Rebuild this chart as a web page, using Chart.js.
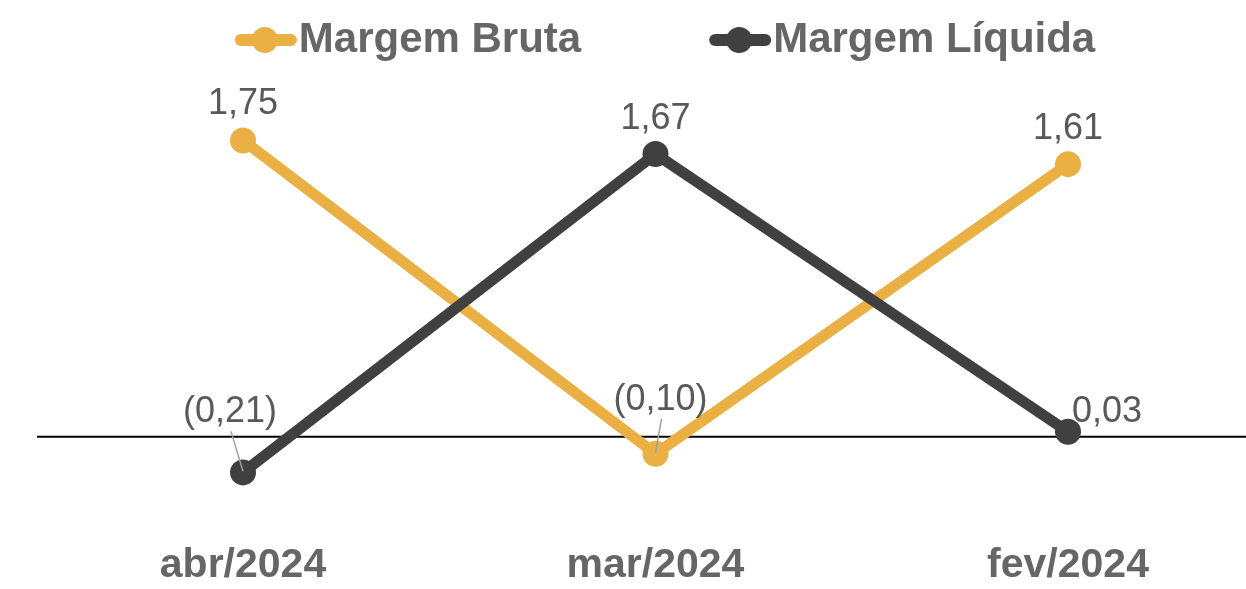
<!DOCTYPE html>
<html><head><meta charset="utf-8">
<script src="https://cdn.jsdelivr.net/npm/chart.js@4"></script>
<style>html,body{margin:0;padding:0;background:#fff;overflow:hidden}</style>
</head><body>
<canvas id="c" width="1246" height="589"></canvas>
<script>
const categories = ['abr/2024', 'mar/2024', 'fev/2024'];
const seriesNames = ['Margem Bruta', 'Margem Líquida'];
const margemBruta = [1.75, -0.10, 1.61];
const margemLiquida = [-0.21, 1.67, 0.03];

const colors = ['#EBB044', '#404040'];
const FONT = "'Liberation Sans', Arial, sans-serif";

// label placement styles relative to each point
const labelOffsets = [
  [{dx: 0, dy: -39}, {dx: 5, dy: -57, leader: true}, {dx: 0, dy: -38}],
  [{dx: -13, dy: -63, leader: true}, {dx: 0, dy: -38}, {dx: 39, dy: -23}]
];

function fmt(v) {
  const s = Math.abs(v).toFixed(2).replace('.', ',');
  return v < 0 ? '(' + s + ')' : s;
}

function legendMarker(color) {
  const c = document.createElement('canvas');
  c.width = 190; c.height = 30;
  const g = c.getContext('2d');
  g.strokeStyle = color; g.lineWidth = 12; g.lineCap = 'round';
  g.beginPath(); g.moveTo(134, 15); g.lineTo(184, 15); g.stroke();
  g.fillStyle = color;
  g.beginPath(); g.arc(158, 15, 13, 0, Math.PI * 2); g.fill();
  return c;
}
const markers = colors.map(legendMarker);

const zeroLine = {
  id: 'zeroLine',
  beforeDatasetsDraw(chart) {
    const ctx = chart.ctx;
    const y = chart.scales.y.getPixelForValue(0);
    ctx.save();
    ctx.strokeStyle = '#000';
    ctx.lineWidth = 2;
    ctx.beginPath();
    ctx.moveTo(chart.chartArea.left + 37, y);
    ctx.lineTo(chart.width, y);
    ctx.stroke();
    ctx.restore();
  }
};

const dataLabels = {
  id: 'dataLabels',
  afterDatasetsDraw(chart) {
    const ctx = chart.ctx;
    ctx.save();
    chart.data.datasets.forEach((ds, di) => {
      const meta = chart.getDatasetMeta(di);
      meta.data.forEach((pt, i) => {
        const off = labelOffsets[di][i];
        const lx = pt.x + off.dx, ly = pt.y + off.dy;
        if (off.leader) {
          ctx.strokeStyle = '#a0a0a0';
          ctx.lineWidth = 1.5;
          ctx.beginPath();
          ctx.moveTo(lx + 1, ly + 22);
          ctx.lineTo(pt.x, pt.y - 1);
          ctx.stroke();
        }
        ctx.fillStyle = '#595959';
        ctx.font = '36px ' + FONT;
        ctx.textAlign = 'center';
        ctx.textBaseline = 'alphabetic';
        ctx.fillText(fmt(ds.data[i].y), lx, ly + 13);
      });
    });
    ctx.restore();
  }
};

Chart.defaults.font.family = FONT;

new Chart(document.getElementById('c'), {
  type: 'line',
  data: {
    datasets: [
      {
        label: seriesNames[0],
        data: margemBruta.map((v, i) => ({x: i, y: v})),
        borderColor: colors[0], backgroundColor: colors[0],
        borderWidth: 11, pointRadius: 13, pointBorderWidth: 0,
        pointBackgroundColor: colors[0], tension: 0, order: 1
      },
      {
        label: seriesNames[1],
        data: margemLiquida.map((v, i) => ({x: i, y: v})),
        borderColor: colors[1], backgroundColor: colors[1],
        borderWidth: 11, pointRadius: 13, pointBorderWidth: 0,
        pointBackgroundColor: colors[1], tension: 0, order: 0
      }
    ]
  },
  options: {
    responsive: false,
    animation: false,
    events: [],
    layout: {autoPadding: false, padding: {left: 0, right: 25, top: 0, bottom: 0}},
    plugins: {
      tooltip: {enabled: false},
      legend: {
        position: 'top',
        labels: {
          usePointStyle: true,
          pointStyleWidth: 152,
          padding: 19,
          color: '#666666',
          font: {size: 42, weight: 'bold', family: FONT},
          generateLabels(chart) {
            return chart.data.datasets.map((ds, i) => ({
              text: ds.label,
              fillStyle: colors[i],
              strokeStyle: colors[i],
              lineWidth: 0,
              pointStyle: markers[i],
              hidden: false,
              datasetIndex: i,
              fontColor: '#666666'
            }));
          }
        }
      }
    },
    scales: {
      x: {
        type: 'linear',
        min: -0.5891, max: 2.3709,
        grid: {display: false, drawTicks: false},
        border: {display: false},
        afterBuildTicks(axis) { axis.ticks = categories.map((c, i) => ({value: i})); },
        afterFit(axis) { axis.paddingLeft = 0; axis.paddingRight = 0; },
        ticks: {
          autoSkip: false, maxRotation: 0, padding: 3,
          color: '#666666',
          font: {size: 41, weight: 'bold', family: FONT, lineHeight: 1.0},
          callback: (v) => categories[v] ?? ''
        }
      },
      y: {
        display: false,
        min: -0.621, max: 2.16
      }
    }
  },
  plugins: [zeroLine, dataLabels]
});
</script>
</body></html>
